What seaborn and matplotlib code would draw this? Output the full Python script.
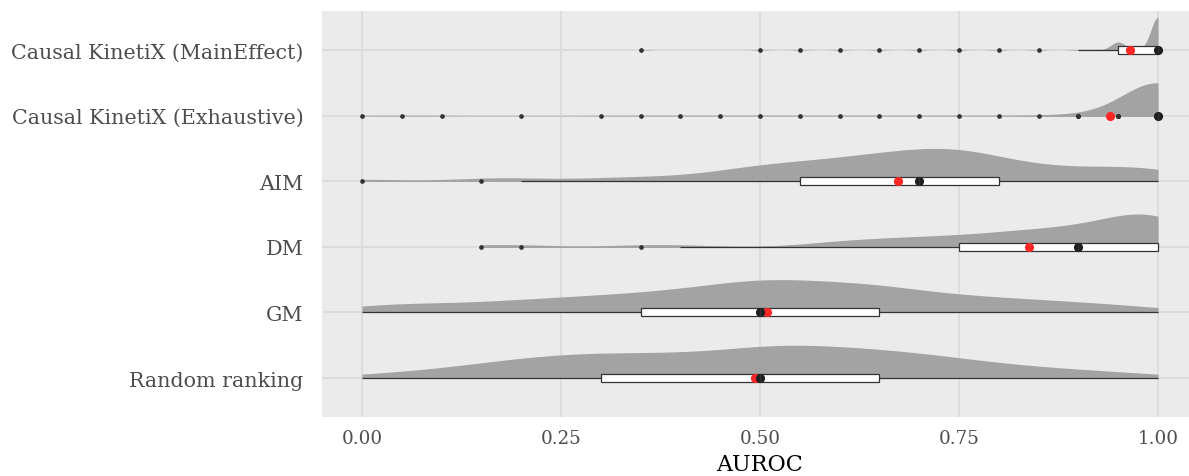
import numpy as np
import pandas as pd
import matplotlib
matplotlib.use("Agg")
import matplotlib.pyplot as plt
from matplotlib.patches import Rectangle
from matplotlib.ticker import FormatStrFormatter
import seaborn as sns

# Methods, top to bottom
methods = [
    "Causal KinetiX (MainEffect)",
    "Causal KinetiX (Exhaustive)",
    "AIM",
    "DM",
    "GM",
    "Random ranking",
]

# AUROC values reached by each method and how many runs gave each value
main_effect_values = [0.35, 0.50, 0.55, 0.60, 0.65, 0.70, 0.75, 0.80, 0.85, 0.90, 0.95, 1.00]
main_effect_counts = [1, 1, 1, 1, 1, 1, 1, 1, 1, 1, 23, 94]

exhaustive_values = [0.00, 0.05, 0.10, 0.20, 0.30, 0.35, 0.40, 0.45, 0.50, 0.55,
                     0.60, 0.65, 0.70, 0.75, 0.80, 0.85, 0.90, 0.95, 1.00]
exhaustive_counts = [1, 1, 1, 1, 1, 1, 1, 1, 1, 1,
                     1, 1, 1, 1, 1, 1, 3, 6, 131]

aim_values = [0.00, 0.15, 0.20, 0.30, 0.35, 0.40, 0.45, 0.50, 0.55,
              0.60, 0.65, 0.70, 0.75, 0.80, 0.85, 0.90, 0.95, 1.00]
aim_counts = [1, 1, 1, 1, 1, 1, 2, 4, 4, 5, 6, 7, 8, 5, 3, 3, 3, 4]

dm_values = [0.15, 0.20, 0.35, 0.40, 0.60, 0.65, 0.70, 0.75, 0.80, 0.85, 0.90, 0.95, 1.00]
dm_counts = [1, 1, 1, 1, 3, 2, 4, 3, 5, 6, 6, 9, 18]

grid_values = [0.00, 0.05, 0.10, 0.15, 0.20, 0.25, 0.30, 0.35, 0.40, 0.45, 0.50,
               0.55, 0.60, 0.65, 0.70, 0.75, 0.80, 0.85, 0.90, 0.95, 1.00]
gm_counts = [2, 2, 2, 2, 3, 3, 4, 4, 5, 6, 8, 7, 6, 7, 4, 4, 3, 3, 2, 2, 1]
random_counts = [1, 1, 2, 3, 4, 5, 5, 5, 5, 5, 7, 7, 6, 6, 5, 4, 3, 2, 2, 1, 1]

x_ticks = [0.00, 0.25, 0.50, 0.75, 1.00]

samples = {
    methods[0]: np.repeat(main_effect_values, main_effect_counts),
    methods[1]: np.repeat(exhaustive_values, exhaustive_counts),
    methods[2]: np.repeat(aim_values, aim_counts),
    methods[3]: np.repeat(dm_values, dm_counts),
    methods[4]: np.repeat(grid_values, gm_counts),
    methods[5]: np.repeat(grid_values, random_counts),
}
df = pd.concat(
    [pd.DataFrame({"method": name, "AUROC": vals}) for name, vals in samples.items()],
    ignore_index=True,
)

# Style
PANEL_BG = "#EBEBEB"
GRID = "#DCDCDC"
VIOLIN_GREY = "#A3A3A3"
INK = "#333333"
LABEL_GREY = "#4D4D4D"
MEAN_RED = "#FF2626"
MEDIAN_BLACK = "#1E1E1E"
BW_ADJUST = 0.7

sns.set_theme(style="darkgrid", rc={
    "axes.facecolor": PANEL_BG,
    "grid.color": GRID,
    "grid.linewidth": 1.4,
    "axes.edgecolor": PANEL_BG,
})
plt.rcParams["font.family"] = ["DejaVu Serif"]

fig = plt.figure(figsize=(11.89, 4.77), dpi=100)
W, H = 1189.0, 477.0
left_px, right_px, top_px, bottom_px = 322.2, 1197.8, 11.6, 418.4
ax = fig.add_axes([left_px / W, (H - bottom_px) / H,
                   (right_px - left_px) / W, (bottom_px - top_px) / H])


def nrd0(x):
    """Silverman's rule of thumb (R's bw.nrd0)."""
    sd = np.std(x, ddof=1)
    q1, q3 = np.percentile(x, [25, 75])
    spread = min(sd, (q3 - q1) / 1.34)
    if spread == 0:
        spread = sd
    return 0.9 * spread * len(x) ** -0.2, sd


# Densities: full violins, each clipped to its upper half ("flat" violins)
for pos, name in enumerate(methods):
    sub = df[df["method"] == name]
    bw, sd = nrd0(sub["AUROC"].to_numpy())
    n_before = len(ax.collections)
    sns.violinplot(
        data=sub, x="AUROC", y="method", order=methods, orient="h",
        inner=None, cut=0, density_norm="width", width=1.0,
        bw_method=bw / sd, bw_adjust=BW_ADJUST, gridsize=400,
        color=VIOLIN_GREY, saturation=1, linewidth=0, ax=ax,
    )
    upper = Rectangle((-1.0, pos - 0.6), 3.0, 0.6, transform=ax.transData)
    for coll in ax.collections[n_before:]:
        coll.set_clip_path(upper)

# Thin boxplots with outliers
sns.boxplot(
    data=df, x="AUROC", y="method", order=methods, orient="h",
    width=0.12, whis=1.5, color="white", saturation=1,
    linecolor=INK, linewidth=0.9, showcaps=False,
    flierprops=dict(marker="o", markersize=3.4, markerfacecolor=INK,
                    markeredgecolor="none"),
    ax=ax,
)

# Mean (red) and median (black) markers
sns.pointplot(
    data=df, x="AUROC", y="method", order=methods, orient="h",
    estimator="mean", errorbar=None, linestyle="none", marker="o",
    markersize=6.6, markeredgewidth=0, color=MEAN_RED, ax=ax,
)
sns.pointplot(
    data=df, x="AUROC", y="method", order=methods, orient="h",
    estimator="median", errorbar=None, linestyle="none", marker="o",
    markersize=6.6, markeredgewidth=0, color=MEDIAN_BLACK, ax=ax,
)

ax.set_xlim(-0.05, 1.05)
ax.set_ylim(len(methods) - 1 + 0.6, -0.6)
ax.set_xticks(x_ticks)
ax.xaxis.set_major_formatter(FormatStrFormatter("%.2f"))
ax.set_axisbelow(True)
ax.grid(True, axis="both", color=GRID, linewidth=1.4)
for s in ax.spines.values():
    s.set_visible(False)

ax.tick_params(axis="both", which="major", direction="out", length=5,
               width=1.1, color=INK, labelcolor=LABEL_GREY)
ax.tick_params(axis="y", pad=8.5, labelsize=14.9)
ax.tick_params(axis="x", pad=3, labelsize=13.2)
ax.set_ylabel("")
ax.set_xlabel("AUROC", fontsize=16, color="black", labelpad=5)

fig.savefig("out.png", dpi=100)
